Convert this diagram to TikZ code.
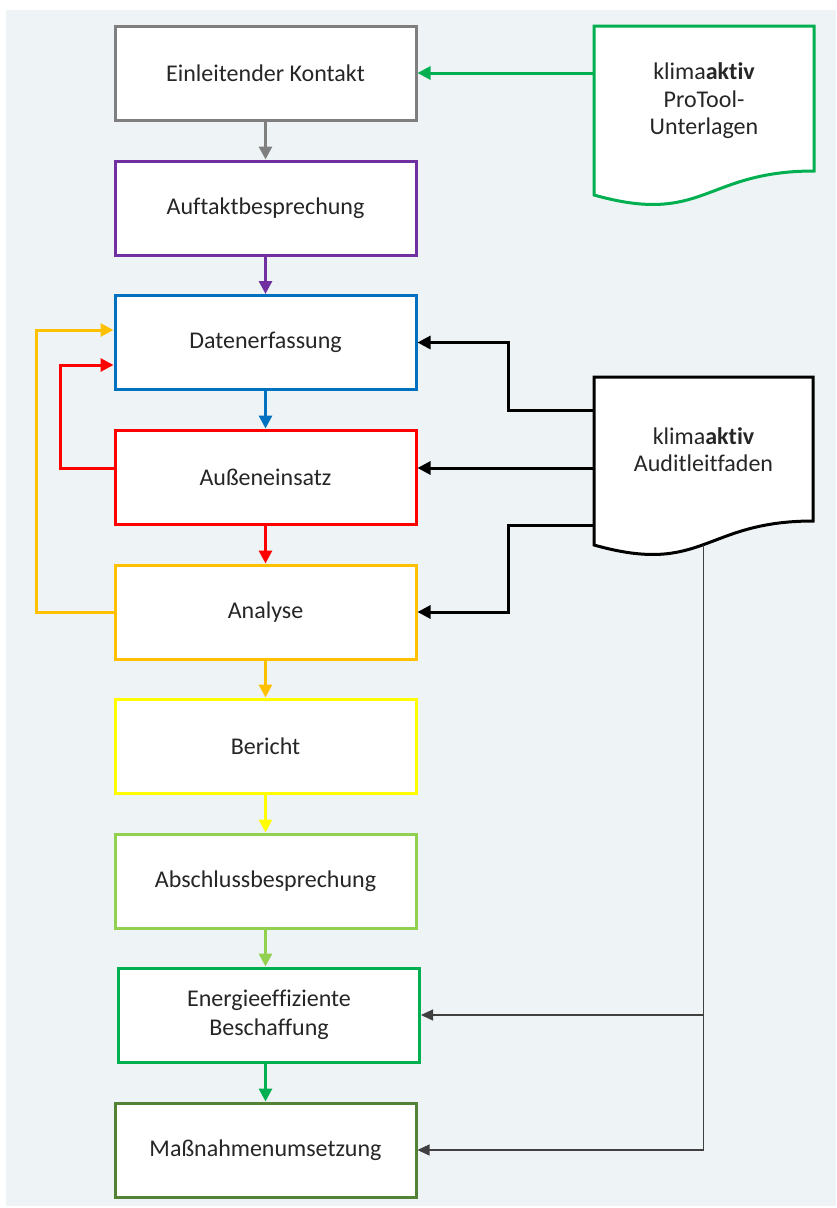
\documentclass[tikz,border=0pt]{standalone}
\usepackage{fontspec}
\setmainfont{Carlito}[Ligatures=NoCommon]
\usetikzlibrary{arrows.meta}
\definecolor{bgc}{HTML}{EEF3F6}
\definecolor{txtc}{HTML}{262626}
\definecolor{cgray}{HTML}{7F7F7F}
\definecolor{cpurple}{HTML}{7030A0}
\definecolor{cblue}{HTML}{0070C0}
\definecolor{cred}{HTML}{FF0000}
\definecolor{corange}{HTML}{FFC000}
\definecolor{cyellow}{HTML}{FFFF00}
\definecolor{clgreen}{HTML}{92D050}
\definecolor{cgreen}{HTML}{00B050}
\definecolor{cdgreen}{HTML}{548235}
\definecolor{cthin}{HTML}{404040}
\begin{document}
\begin{tikzpicture}[x=1pt,y=-1pt,
  box/.style={draw, fill=white, line width=3pt, minimum width=301pt, minimum height=94pt,
    inner sep=0pt, text=txtc, font=\fontsize{24}{28.5}\selectfont, align=center},
  doctext/.style={text=txtc, font=\fontsize{24}{27.5}\selectfont, align=center, inner sep=0pt},
  docshape/.style={line width=3pt, fill=white, line join=miter},
  arr/.style={line width=3pt, -{Triangle[length=13pt,width=13pt]}},
  thinarr/.style={line width=1.2pt, draw=cthin, -{Triangle[length=12pt,width=11pt]}}]
\useasboundingbox (0,0) rectangle (836,1208);
\fill[white] (0,0) rectangle (836,1208);
\fill[bgc] (6,10) rectangle (836,1206);

% process boxes
\node[box, draw=cgray]   (k1) at (265.5,73)    {Einleitender Kontakt};
\node[box, draw=cpurple] (k2) at (265.5,208)   {Auftaktbesprechung};
\node[box, draw=cblue]   (k3) at (265.5,342.5) {Datenerfassung};
\node[box, draw=cred]    (k4) at (265.5,477)   {Außeneinsatz};
\node[box, draw=corange] (k5) at (265.5,612)   {Analyse};
\node[box, draw=cyellow] (k6) at (265.5,746)   {Bericht};
\node[box, draw=clgreen] (k7) at (265.5,881)   {Abschlussbesprechung};
\node[box, draw=cgreen]  (k8) at (269,1015)    {Energieeffiziente\\Beschaffung};
\node[box, draw=cdgreen] (k9) at (265.5,1150)  {Maßnahmenumsetzung};

% documents
\draw[docshape, draw=cgreen] (594,26) -- (814,26) -- (814,171)
  .. controls (704,171) and (704,226) .. (594,195) -- cycle;
\node[doctext] (d1) at (704,101) {klima\textbf{aktiv}\\ProTool-\\Unterlagen};
\draw[docshape, draw=black] (594,377) -- (813,377) -- (813,521)
  .. controls (703.5,521) and (703.5,576) .. (594,545) -- cycle;
\node[doctext] (d2) at (703.5,449.5) {klima\textbf{aktiv}\\Auditleitfaden};

\coordinate (d1p) at (594,73);
\coordinate (d2p1) at (594,410);
\coordinate (d2p2) at (594,468);
\coordinate (d2p3) at (594,525);
\coordinate (d2b) at (703.5,544.6);

% main flow
\draw[arr, draw=cgray]   (k1.south) -- (k2.north);
\draw[arr, draw=cpurple] (k2.south) -- (k3.north);
\draw[arr, draw=cblue]   (k3.south) -- (k4.north);
\draw[arr, draw=cred]    (k4.south) -- (k5.north);
\draw[arr, draw=corange] (k5.south) -- (k6.north);
\draw[arr, draw=cyellow] (k6.south) -- (k7.north);
\draw[arr, draw=clgreen] (k7.south) -- (k7.south |- k8.north);
\draw[arr, draw=cgreen]  (k9.north |- k8.south) -- (k9.north);

% feedback loops
\draw[arr, draw=corange, line join=miter] (k5.west) -- ++(-77,0) |- ([yshift=12.5pt]k3.west);
\draw[arr, draw=cred, line join=miter] ([yshift=9pt]k4.west) -- ++(-53,0) |- ([yshift=-22.5pt]k3.west);

% document inputs
\draw[arr, draw=cgreen] (d1p) -- (k1.east);
\draw[arr, draw=black, line join=miter] (d2p1) -- ++(-86,0) |- (k3.east);
\draw[arr, draw=black] (d2p2) -- (d2p2 -| k4.east);
\draw[arr, draw=black, line join=miter] (d2p3) -- ++(-86,0) |- (k5.east);
\draw[thinarr] (d2b) -- (d2b |- k9) -- (k9.east);
\draw[thinarr] (d2b |- k8) -- (k8.east);
\end{tikzpicture}
\end{document}
